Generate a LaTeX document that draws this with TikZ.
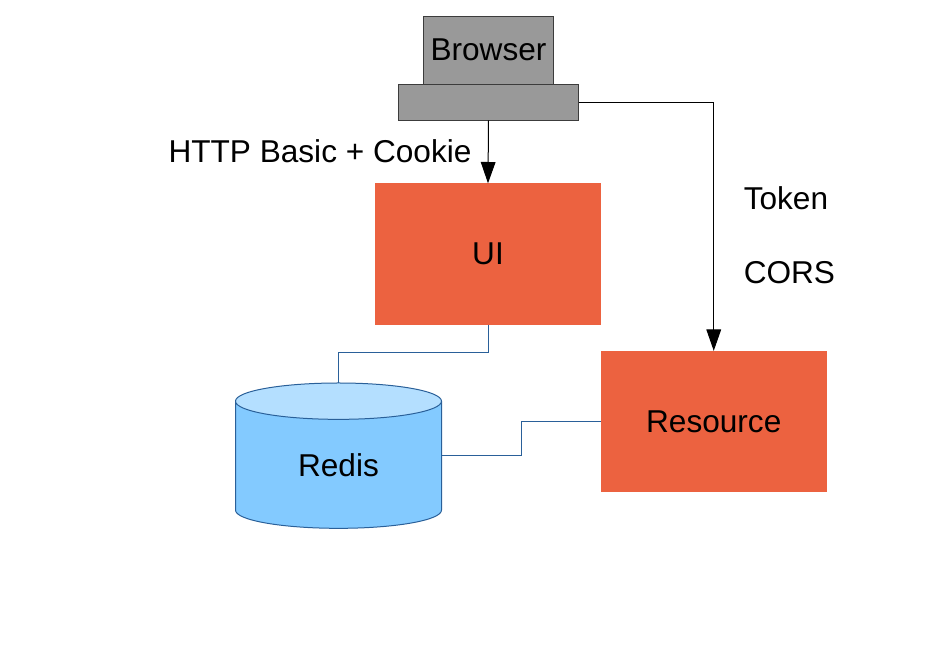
\documentclass[tikz,border=0pt]{standalone}
\usepackage{fontspec}
\setmainfont{Liberation Sans}
\usetikzlibrary{positioning, calc, arrows.meta, shapes.geometric}
\definecolor{boxgray}{HTML}{999999}
\definecolor{boxline}{HTML}{3C3C3C}
\definecolor{apporange}{HTML}{EC6240}
\definecolor{storeblue}{HTML}{83CAFF}
\definecolor{storetop}{HTML}{B4DFFF}
\definecolor{wireblue}{HTML}{2A6099}

\begin{document}
\begin{tikzpicture}[
    x=0.75pt,
    y=-0.75pt,
    font=\fontsize{23.7}{28}\selectfont,
    client/.style={
        draw=boxline,
        line width=0.75pt,
        fill=boxgray,
        outer sep=0pt,
        inner sep=0pt,
    },
    service/.style={
        fill=apporange,
        outer sep=0pt,
        inner sep=0pt,
        minimum width=169.5pt,
        minimum height=106pt,
    },
    store/.style={
        draw=wireblue,
        line width=0.75pt,
        cylinder,
        shape border rotate=90,
        aspect=0.45,
        cylinder uses custom fill,
        cylinder body fill=storeblue,
        cylinder end fill=storetop,
        outer sep=0pt,
        inner sep=0pt,
        minimum width=154.5pt,
        minimum height=109pt,
    },
    wire/.style={
        draw=wireblue,
        line width=0.75pt,
    },
    arrow/.style={
        -{Triangle[length=16pt, width=11pt]},
        line width=0.75pt,
    },
]

    \useasboundingbox (0,0) rectangle (951,670);

    \node[client, minimum width=97.5pt, minimum height=51pt] (browser) at (488.5,50.5) {\raisebox{.7pt}{Browser}};
    \node[client, minimum width=135pt, minimum height=27pt, below=0pt of browser] (base) {};
    \node[service] (ui) at (488,254) {UI};
    \node[service] (resource) at (713.75,421.5) {Resource};
    \node[store] (redis) at (338.5,465) {Redis};

    \node (basic) at (320,151) {HTTP Basic + Cookie};
    \node[anchor=west, inner sep=0pt] (token) at (743.5,198) {Token};
    \node[anchor=west, inner sep=0pt] (cors) at (743.5,273) {CORS};

    \coordinate (resourcebend) at ($(redis.east)!.5!(resource.west)$);

    \draw[arrow] (base.south) -- (ui.north);
    \draw[arrow] (base.east) -| (resource.north);
    \draw[wire] (ui.south) -- ++(0,28) -| (redis.north);
    \draw[wire] ([yshift=7.2pt]redis.east) -| (resourcebend) |- (resource.west);

\end{tikzpicture}
\end{document}
